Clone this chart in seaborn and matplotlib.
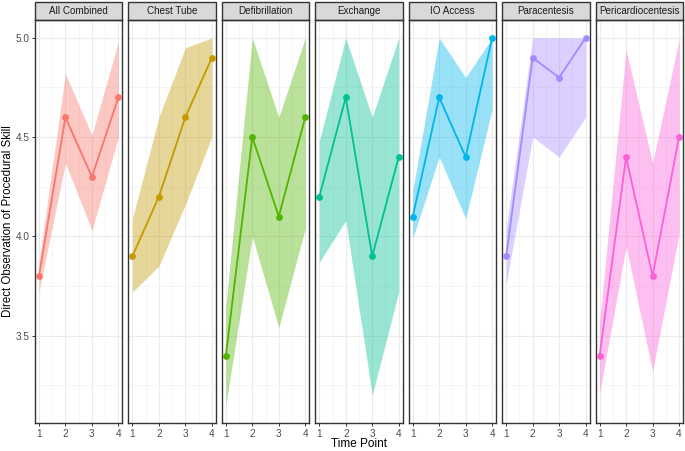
import numpy as np
import pandas as pd
import seaborn as sns
import matplotlib
matplotlib.use("Agg")
import matplotlib.pyplot as plt
from matplotlib.patches import Rectangle

procedures = ["All Combined", "Chest Tube", "Defibrillation", "Exchange",
              "IO Access", "Paracentesis", "Pericardiocentesis"]
colors = ["#F8766D", "#C49A00", "#53B400", "#00C094", "#00B6EB", "#A58AFF", "#FB61D7"]
time_points = [1, 2, 3, 4]

means = {
    "All Combined":       [3.80, 4.60, 4.30, 4.70],
    "Chest Tube":         [3.90, 4.20, 4.60, 4.90],
    "Defibrillation":     [3.40, 4.50, 4.10, 4.60],
    "Exchange":           [4.20, 4.70, 3.90, 4.40],
    "IO Access":          [4.10, 4.70, 4.40, 5.00],
    "Paracentesis":       [3.90, 4.90, 4.80, 5.00],
    "Pericardiocentesis": [3.40, 4.40, 3.80, 4.50],
}
lower = {
    "All Combined":       [3.72, 4.37, 4.03, 4.50],
    "Chest Tube":         [3.72, 3.85, 4.16, 4.50],
    "Defibrillation":     [3.15, 4.00, 3.54, 4.04],
    "Exchange":           [3.87, 4.08, 3.20, 3.72],
    "IO Access":          [3.99, 4.40, 4.09, 4.64],
    "Paracentesis":       [3.76, 4.50, 4.40, 4.60],
    "Pericardiocentesis": [3.21, 3.95, 3.32, 4.01],
}
upper = {
    "All Combined":       [3.87, 4.82, 4.51, 4.98],
    "Chest Tube":         [4.09, 4.60, 4.95, 5.00],
    "Defibrillation":     [3.65, 5.00, 4.60, 5.00],
    "Exchange":           [4.48, 5.00, 4.60, 5.00],
    "IO Access":          [4.23, 5.00, 4.80, 5.00],
    "Paracentesis":       [4.04, 5.00, 5.00, 5.00],
    "Pericardiocentesis": [3.57, 4.94, 4.37, 4.99],
}

rows = []
for p in procedures:
    for i, t in enumerate(time_points):
        rows.append({"Procedure": p, "Time": t, "Mean": means[p][i],
                     "Lower": lower[p][i], "Upper": upper[p][i]})
df = pd.DataFrame(rows)

sns.set_theme(style="white")
plt.rcParams['font.family'] = ['Liberation Sans', 'DejaVu Sans']

W, H = 685, 451
fig, axes = plt.subplots(1, 7, figsize=(W / 100, H / 100), dpi=100, sharey=True)
left_px, right_px, top_px, bottom_px = 35, 683, 20, 423
fig.subplots_adjust(left=left_px / W, right=right_px / W,
                    top=1 - top_px / H, bottom=1 - bottom_px / H, wspace=0.07)

ymin, ymax = 3.06, 5.09
strip_h = 18 / (bottom_px - top_px)

for ax, p, c in zip(axes, procedures, colors):
    d = df[df["Procedure"] == p]
    ax.fill_between(d["Time"], d["Lower"], d["Upper"], color=c, alpha=0.4,
                    linewidth=0, zorder=2)
    sns.lineplot(data=d, x="Time", y="Mean", color=c, linewidth=1.3, ax=ax,
                 zorder=3)
    sns.scatterplot(data=d, x="Time", y="Mean", color=c, s=24, linewidth=0,
                    ax=ax, zorder=4)
    ax.set_xlim(0.85, 4.15)
    ax.set_ylim(ymin, ymax)
    ax.set_xticks(time_points)
    ax.set_xticks([1.5, 2.5, 3.5], minor=True)
    ax.set_yticks([3.5, 4.0, 4.5, 5.0])
    ax.set_yticks([3.25, 3.75, 4.25, 4.75], minor=True)
    ax.grid(True, which="major", color="#EBEBEB", linewidth=0.8, zorder=0)
    ax.grid(True, which="minor", color="#F2F2F2", linewidth=0.5, zorder=0)
    ax.set_axisbelow(True)
    for s in ax.spines.values():
        s.set_color("#333333")
        s.set_linewidth(1.0)
    ax.tick_params(axis="both", which="major", length=2.5, width=0.7,
                   color="#333333", labelcolor="#4D4D4D", labelsize=7.2, pad=1.5)
    ax.tick_params(axis="both", which="minor", length=0)
    ax.tick_params(axis="x", bottom=True)
    ax.tick_params(axis="y", left=(ax is axes[0]))
    ax.set_xlabel("")
    ax.set_ylabel("")
    rect = Rectangle((0, 1), 1, strip_h, transform=ax.transAxes, clip_on=False,
                     facecolor="#D9D9D9", edgecolor="#333333", linewidth=1.0)
    ax.add_patch(rect)
    ax.text(0.5, 1 + strip_h / 2, p, transform=ax.transAxes, ha="center",
            va="center", fontsize=7.1, color="#1A1A1A")

fig.text(8 / W, 1 - ((top_px + bottom_px) / 2) / H,
         "Direct Observation of Procedural Skill", rotation=90, ha="center",
         va="center", fontsize=8.3, color="#000000")
fig.text((left_px + right_px) / 2 / W, 1 - 444 / H, "Time Point", ha="center",
         va="center", fontsize=8.5, color="#000000")

fig.savefig("out.png", dpi=100)
